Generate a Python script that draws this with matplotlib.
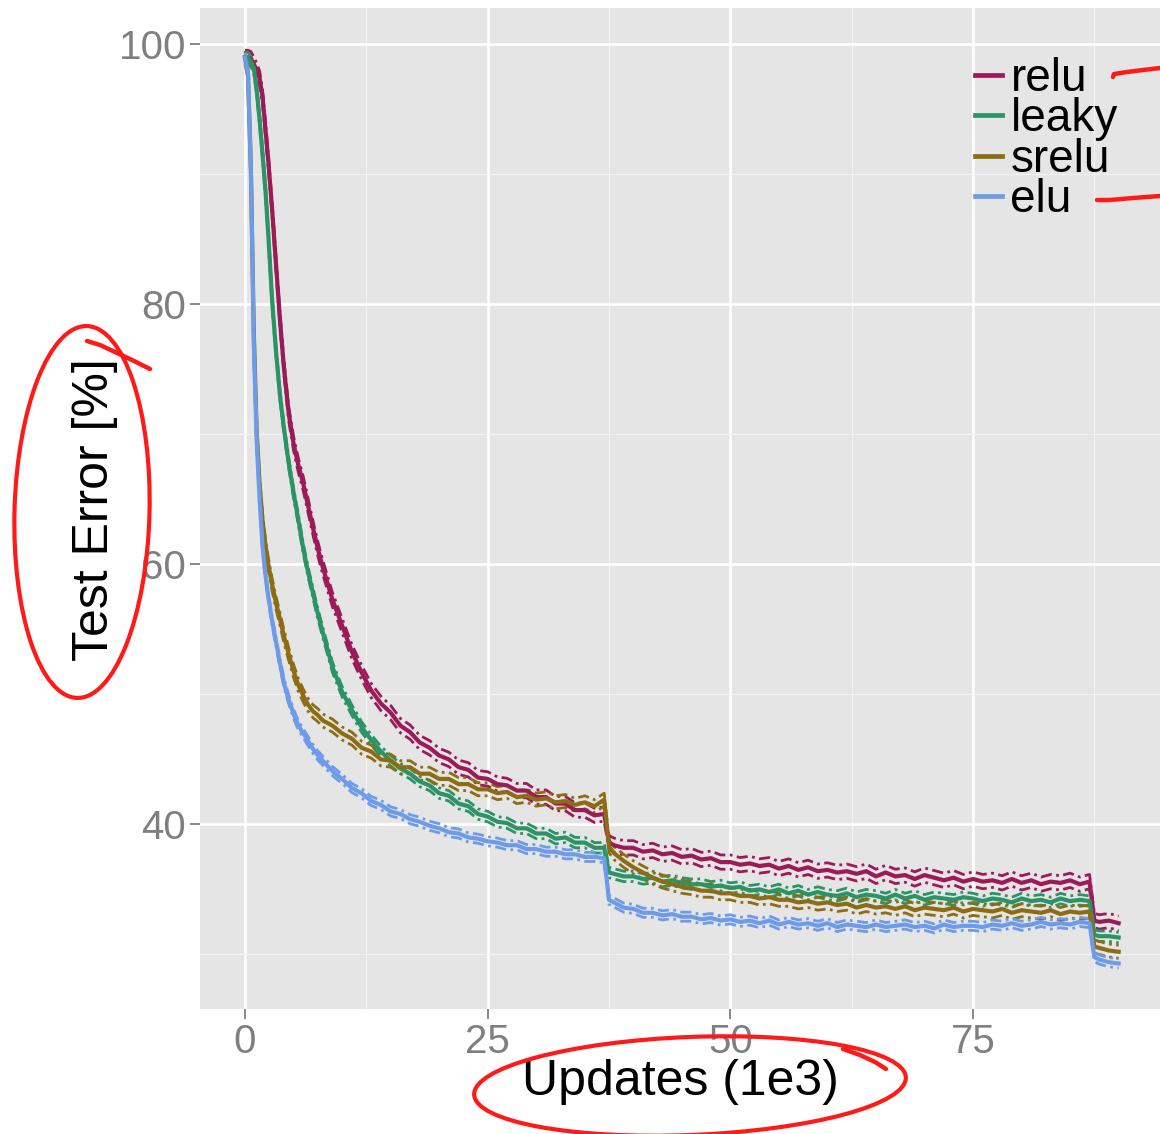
import matplotlib
matplotlib.use('Agg')
import matplotlib.pyplot as plt
import matplotlib.transforms as mtransforms
from matplotlib.patches import Ellipse
from matplotlib.lines import Line2D

plt.rcParams['font.family'] = ['Liberation Sans', 'DejaVu Sans']

# updates (1e3)
updates = [0, 0.3, 0.6, 0.9, 1.2, 1.5, 1.8, 2.1, 2.4, 2.8,
           3.2, 3.6, 4.0, 4.5, 5.0, 5.5, 6.0, 6.5, 7.0, 7.5,
           8, 9, 10, 11, 12, 13, 14, 15, 16, 17,
           18, 19, 20, 21, 22, 23, 24, 25, 26, 27,
           28, 29, 30, 31, 32, 33, 34, 35, 36, 37,
           37.5, 38, 39, 40, 41, 42, 43, 44, 45, 46,
           47, 48, 49, 50, 51, 52, 53, 54, 55, 56,
           57, 58, 59, 60, 61, 62, 63, 64, 65, 66,
           67, 68, 69, 70, 71, 72, 73, 74, 75, 76,
           77, 78, 79, 80, 81, 82, 83, 84, 85, 86,
           87, 87.5, 88, 89, 90]

relu = [99.0, 99.0, 98.9, 98.5, 98.0, 97.4, 96.0, 93.5, 91.0, 87.2,
        83.0, 78.8, 75.2, 71.6, 69.3, 67.6, 66.2, 64.5, 62.8, 61.2,
        59.8, 57.3, 55.3, 53.3, 51.7, 50.3, 49.3, 48.6, 47.6, 47.1,
        46.3, 45.9, 45.3, 45.0, 44.4, 44.2, 43.6, 43.5, 43.1, 43.0,
        42.6, 42.6, 42.1, 42.1, 41.6, 41.6, 41.1, 41.1, 40.7, 40.8,
        38.6, 38.4, 38.2, 38.2, 37.9, 38.0, 37.7, 37.8, 37.5, 37.6,
        37.3, 37.4, 37.1, 37.1, 36.9, 37.0, 36.8, 36.9, 36.6, 36.8,
        36.5, 36.7, 36.4, 36.5, 36.3, 36.4, 36.2, 36.4, 36.0, 36.3,
        36.0, 36.1, 35.8, 36.1, 35.9, 35.7, 35.9, 35.6, 35.8, 35.6,
        35.7, 35.5, 35.8, 35.5, 35.7, 35.4, 35.6, 35.5, 35.7, 35.4,
        35.6, 32.6, 32.5, 32.6, 32.4]

leaky = [99.0, 99.0, 98.7, 98.2, 96.5, 94.2, 91.6, 88.8, 85.3, 80.2,
         76.3, 73.0, 70.5, 67.8, 65.5, 63.4, 61.2, 59.4, 57.8, 56.2,
         54.8, 52.1, 50.2, 48.8, 47.5, 46.5, 45.6, 44.9, 44.3, 43.9,
         43.3, 43.0, 42.4, 42.2, 41.6, 41.4, 40.8, 40.6, 40.2, 40.1,
         39.7, 39.7, 39.3, 39.3, 38.9, 39.0, 38.6, 38.6, 38.2, 38.2,
         36.3, 36.2, 36.0, 36.0, 35.8, 35.9, 35.6, 35.7, 35.5, 35.4,
         35.4, 35.2, 35.3, 35.1, 35.2, 34.9, 35.0, 34.8, 35.0, 34.7,
         34.9, 34.6, 34.8, 34.6, 34.5, 34.7, 34.4, 34.6, 34.5, 34.3,
         34.6, 34.3, 34.5, 34.2, 34.4, 34.3, 34.2, 34.4, 34.3, 34.1,
         34.3, 34.2, 34.0, 34.3, 34.1, 34.2, 34.0, 34.3, 34.1, 34.2,
         34.1, 31.5, 31.4, 31.4, 31.3]

srelu = [99.0, 97.8, 90.5, 78.0, 70.2, 66.2, 63.4, 61.5, 60.0, 58.4,
         57.0, 55.8, 54.5, 53.1, 51.8, 50.7, 49.9, 49.2, 48.7, 48.4,
         48.0, 47.6, 47.0, 46.6, 45.9, 45.6, 45.0, 44.9, 44.4, 44.4,
         43.9, 43.9, 43.5, 43.5, 43.1, 43.1, 42.7, 42.7, 42.4, 42.5,
         42.1, 42.2, 41.9, 42.0, 41.7, 41.8, 41.5, 41.7, 41.4, 41.9,
         38.3, 37.8, 37.2, 36.7, 36.3, 35.9, 35.6, 35.4, 35.2, 35.1,
         34.9, 34.9, 34.7, 34.7, 34.5, 34.5, 34.3, 34.4, 34.2, 34.2,
         34.0, 34.1, 33.9, 34.0, 33.8, 33.9, 33.6, 33.8, 33.6, 33.7,
         33.5, 33.7, 33.4, 33.6, 33.5, 33.4, 33.6, 33.3, 33.5, 33.4,
         33.3, 33.5, 33.2, 33.4, 33.3, 33.2, 33.4, 33.1, 33.3, 33.2,
         33.3, 30.6, 30.5, 30.3, 30.2]

elu = [99.0, 97.8, 90.5, 77.0, 69.5, 65.0, 61.4, 59.2, 57.5, 55.6,
       54.0, 52.4, 50.9, 49.6, 48.5, 47.6, 47.0, 46.4, 45.8, 45.3,
       44.9, 44.1, 43.5, 42.8, 42.4, 41.8, 41.5, 41.0, 40.8, 40.4,
       40.2, 39.9, 39.7, 39.4, 39.3, 39.0, 38.9, 38.7, 38.6, 38.4,
       38.4, 38.1, 38.1, 37.9, 37.9, 37.7, 37.7, 37.5, 37.5, 37.4,
       34.2, 34.0, 33.6, 33.5, 33.2, 33.2, 33.0, 33.1, 32.9, 32.9,
       32.7, 32.8, 32.6, 32.7, 32.5, 32.6, 32.4, 32.6, 32.3, 32.5,
       32.3, 32.4, 32.2, 32.4, 32.1, 32.3, 32.2, 32.1, 32.3, 32.1,
       32.2, 32.3, 32.1, 32.2, 32.0, 32.3, 32.1, 32.2, 32.2, 32.1,
       32.3, 32.2, 32.4, 32.2, 32.3, 32.5, 32.3, 32.4, 32.3, 32.5,
       32.4, 29.8, 29.6, 29.4, 29.3]

names = ['relu', 'leaky', 'srelu', 'elu']
series = [relu, leaky, srelu, elu]
spread = [0.55, 0.4, 0.5, 0.35]   # half width of the dash-dot band
colors = ['#9b1a57', '#2b9466', '#8c6d14', '#6d9bea']

W, H, DPI = 1160, 1134, 100
fig = plt.figure(figsize=(W / DPI, H / DPI), dpi=DPI)
ax = fig.add_axes([200 / W, 1 - 1009 / H, 960 / W, 1001 / H])
ax.set_facecolor('#e5e5e5')
for s in ax.spines.values():
    s.set_visible(False)

ax.set_xlim(-4.64, 94.26)
ax.set_ylim(25.8, 102.8)
ax.set_xticks([0, 25, 50, 75])
ax.set_xticks([12.5, 37.5, 62.5, 87.5], minor=True)
ax.set_yticks([40, 60, 80, 100])
ax.set_yticks([30, 50, 70, 90], minor=True)
ax.grid(which='major', color='white', lw=1.9)
ax.grid(which='minor', color='#f2f2f2', lw=0.9)
ax.set_axisbelow(True)
ax.tick_params(which='major', length=7, width=1.3, color='#7f7f7f',
               labelcolor='#7f7f7f', labelsize=29, pad=3)
ax.tick_params(which='minor', length=0)

for vals, sp, c in zip(series, spread, colors):
    up = [v + sp for v in vals]
    lo = [v - sp for v in vals]
    ax.plot(updates, up, color=c, lw=2.0, ls=(0, (4, 1.6, 1, 1.6)), zorder=2)
    ax.plot(updates, lo, color=c, lw=2.0, ls=(0, (4, 1.6, 1, 1.6)), zorder=2)
lines = []
for vals, c, n in zip(series, colors, names):
    ln, = ax.plot(updates, vals, color=c, lw=3.0, label=n, zorder=3)
    lines.append(ln)

leg = ax.legend(handles=lines, loc='upper left', bbox_to_anchor=(0.807, 0.951),
                frameon=False, fontsize=33, handlelength=0.6, handletextpad=0.18,
                labelspacing=-0.08, borderpad=0, borderaxespad=0)
for h in leg.legend_handles:
    h.set_linewidth(3.4)

ax.set_xlabel('Updates (1e3)', fontsize=36, va='center')
ax.xaxis.set_label_coords(0.5, -0.073)
ax.set_ylabel('Test Error [%]', fontsize=36, va='center')
ax.yaxis.set_label_coords(-0.109, 0.4985)

# red pen marks, in image pixels (origin top left)
pix = mtransforms.Affine2D().scale(1 / DPI, -1 / DPI).translate(0, H / DPI) + fig.dpi_scale_trans
red = '#ff1a1a'
fig.add_artist(Ellipse((82, 512), 135, 372, angle=1.5, transform=pix,
                       fill=False, ec=red, lw=3.0))
fig.add_artist(Ellipse((690, 1086), 432, 98, angle=-2.3, transform=pix,
                       fill=False, ec=red, lw=3.0))
strokes = [
    ([87, 100, 115, 132, 150], [341, 345, 352, 360, 369]),
    ([843, 860, 875, 886], [1049, 1055, 1062, 1069]),
    ([1113, 1114, 1127, 1143, 1160], [77, 74, 72, 70, 68]),
    ([1097, 1110, 1133, 1160], [200, 200, 198, 196]),
]
for xs, ys in strokes:
    fig.add_artist(Line2D(xs, ys, transform=pix, color=red, lw=3.2,
                          solid_capstyle='round'))

fig.savefig('out.png', dpi=DPI)
